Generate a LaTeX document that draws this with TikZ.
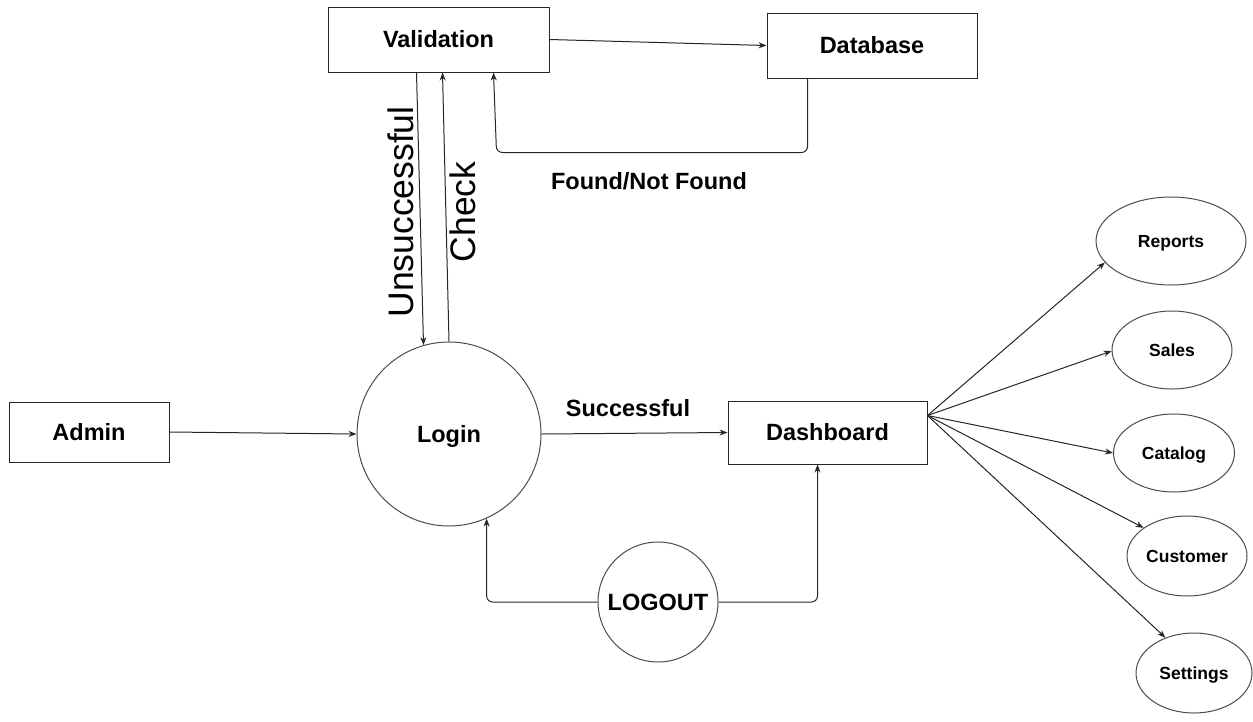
\documentclass[tikz,border=0pt]{standalone}
\usepackage{fontspec}
\setmainfont{Liberation Sans}
\usetikzlibrary{shapes.geometric,arrows.meta}
\begin{document}
\begin{tikzpicture}[x=1pt,y=-1pt,
  every node/.style={inner sep=0pt, text depth=0pt},
  lbl/.style={font=\fontsize{23.5}{28}\selectfont\bfseries, text height=16.9pt},
  small/.style={font=\fontsize{17.5}{21}\selectfont\bfseries, text height=12.6pt},
  big/.style={font=\fontsize{35.5}{42}\selectfont, text height=25.6pt},
  box/.style={draw=black!85, line width=1pt, rectangle, lbl},
  circ/.style={draw=black!70, line width=1pt, circle, lbl},
  ell/.style={draw=black!70, line width=1pt, ellipse, small},
  arr/.style={draw=black!85, line width=1pt, -{Stealth[length=8pt,width=6pt]}}
]
\useasboundingbox (0,0) rectangle (1253,721);
\node[box, minimum width=221pt, minimum height=65pt] (val) at (438.5,39.5) {Validation};
\node[box, minimum width=210pt, minimum height=65pt] (db) at (872,45.5) {Database};
\node[box, minimum width=160pt, minimum height=60pt] (admin) at (89,432) {Admin};
\node[circ, minimum size=184pt] (login) at (449,434) {Login};
\node[box, minimum width=199pt, minimum height=63pt] (dash) at (827.5,432.5) {Dashboard};
\node[circ, minimum size=120pt] (logout) at (658,602) {LOGOUT};
\node[ell, minimum width=150pt, minimum height=88pt] (rep) at (1171,241) {Reports};
\node[ell, minimum width=120pt, minimum height=78pt] (sales) at (1172,350) {Sales};
\node[ell, minimum width=121pt, minimum height=78pt] (cat) at (1174,453) {Catalog};
\node[ell, minimum width=120pt, minimum height=80pt] (cust) at (1187,556) {Customer};
\node[ell, minimum width=116pt, minimum height=80pt] (set) at (1194,673) {Settings};

\node[big, rotate=90] (unsucc) at (401,212) {Unsuccessful};
\node[big, rotate=90] (check) at (463,212) {Check};
\node[lbl] (found) at (649,181) {Found/Not Found};
\node[lbl] (succ) at (628,408) {Successful};

\draw[arr] (val.east) -- (db.west);
\draw[arr, rounded corners=6pt] ([xshift=41pt]db.south west) -- ++(0,74) -- ++(-311,0) -- ([xshift=166pt]val.south west);
\draw[arr] ([xshift=89pt]val.south west) -- (login.106);
\draw[arr] (login.90) -- ([xshift=115pt]val.south west);
\draw[arr] (admin.east) -- (login.west);
\draw[arr] (login.east) -- (dash.west);
\draw[arr, rounded corners=6pt] (logout.west) -| (login.-66);
\draw[arr, rounded corners=6pt] (logout.east) -| ([xshift=90pt]dash.south west);
\coordinate (fan) at ([yshift=17pt]dash.east);
\draw[arr] (fan) -- (rep.198);
\draw[arr] (fan) -- (sales.181);
\draw[arr] (fan) -- (cat.180);
\draw[arr] (fan) -- (cust.147);
\draw[arr] (fan) -- (set.129);
\end{tikzpicture}
\end{document}
